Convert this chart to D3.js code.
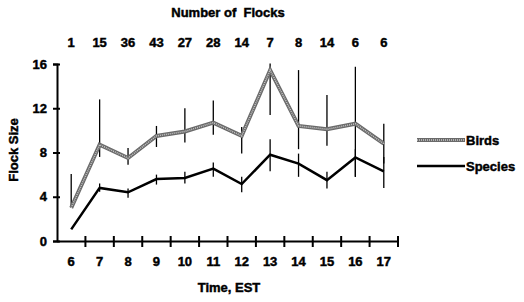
<!DOCTYPE html>
<html>
<head>
<meta charset="utf-8">
<script src="https://cdn.jsdelivr.net/npm/d3@7"></script>
<style>
  body { margin: 0; background: #fff; }
  text { font-family: "Liberation Sans", Arial, sans-serif; font-weight: bold; fill: #000;
         stroke: #000; stroke-width: 0.45px; white-space: pre; }
</style>
</head>
<body>
<div id="chart"></div>
<script>
const hours = ["6", "7", "8", "9", "10", "11", "12", "13", "14", "15", "16", "17"];
const flocks = [1, 15, 36, 43, 27, 28, 14, 7, 8, 14, 6, 6];
const birds = [3.0, 8.7, 7.5, 9.5, 9.9, 10.7, 9.5, 15.45, 10.4, 10.1, 10.6, 8.8];
const birdsLow = [3.0, 7.6, 6.9, 8.5, 8.9, 9.6, 7.9, 11.4, 8.3, 8.6, 5.8, 7.0];
const birdsHigh = [6.05, 12.8, 8.4, 10.4, 12.0, 12.7, 10.3, 16.05, 15.45, 13.2, 15.75, 10.6];
const species = [1.05, 4.8, 4.4, 5.6, 5.7, 6.55, 5.15, 7.8, 7.0, 5.5, 7.55, 6.3];
const speciesLow = [1.05, 4.45, 3.9, 5.1, 5.2, 5.8, 4.4, 6.3, 5.8, 4.75, 5.8, 4.8];
const speciesHigh = [1.05, 5.2, 4.75, 6.0, 6.25, 7.1, 5.8, 9.2, 7.9, 6.25, 8.3, 7.6];
const yTicks = [0, 4, 8, 12, 16];

const width = 524, height = 302;

const svg = d3.select("#chart")
  .append("svg")
  .attr("width", width)
  .attr("height", height);

const x = d3.scaleBand().domain(hours).range([57, 398]);
const y = d3.scaleLinear().domain([0, 16]).range([241, 64]);
const cx = (d) => x(d) + x.bandwidth() / 2;

// titles
svg.append("text")
  .attr("x", 228).attr("y", 17)
  .attr("text-anchor", "middle")
  .style("font-size", "13px")
  .text("Number of  Flocks");

svg.append("g")
  .selectAll("text")
  .data(hours)
  .join("text")
  .attr("x", (d) => cx(d))
  .attr("y", 47)
  .attr("text-anchor", "middle")
  .style("font-size", "13px")
  .text((d, i) => flocks[i]);

svg.append("text")
  .attr("transform", "translate(18,150) rotate(-90)")
  .attr("text-anchor", "middle")
  .style("font-size", "13px")
  .text("Flock Size");

svg.append("text")
  .attr("x", 229).attr("y", 292)
  .attr("text-anchor", "middle")
  .style("font-size", "13px")
  .text("Time, EST");

// axes
const yAxis = svg.append("g")
  .attr("transform", "translate(57,0)")
  .call(d3.axisLeft(y).tickValues(yTicks).tickSize(4).tickPadding(6));

const xAxis = svg.append("g")
  .attr("transform", "translate(0,241)")
  .call(d3.axisBottom(x).tickSize(0).tickPadding(16));

[yAxis, xAxis].forEach((g) => {
  g.select(".domain").attr("stroke", "#000").attr("stroke-width", 2);
  g.selectAll("text").style("font-size", "13px").style("font-family", null).attr("fill", "#000");
});
yAxis.selectAll(".tick line").attr("x2", 3).attr("x1", -4).attr("stroke", "#000").attr("stroke-width", 2);

// crossing ticks on the x axis at category boundaries
const bounds = hours.map((d) => x(d)).concat([x.range()[1]]);
svg.append("g")
  .selectAll("line")
  .data(bounds.slice(1))
  .join("line")
  .attr("x1", (d) => d).attr("x2", (d) => d)
  .attr("y1", 236).attr("y2", 247)
  .attr("stroke", "#000")
  .attr("stroke-width", 2);

// error bars
function errBars(lo, hi) {
  svg.append("g")
    .selectAll("line")
    .data(hours)
    .join("line")
    .attr("x1", (d) => cx(d)).attr("x2", (d) => cx(d))
    .attr("y1", (d, i) => y(hi[i]))
    .attr("y2", (d, i) => y(lo[i]))
    .attr("stroke", "#000")
    .attr("stroke-width", 1.3);
}
errBars(birdsLow, birdsHigh);
errBars(speciesLow, speciesHigh);

const line = d3.line().x((d) => cx(d[0])).y((d) => y(d[1]));
const birdPts = hours.map((h, i) => [h, birds[i]]);
const speciesPts = hours.map((h, i) => [h, species[i]]);

function birdLine(sel) {
  sel.append("path").attr("fill", "none").attr("stroke", "#6a6a6a").attr("stroke-width", 4);
  sel.append("path").attr("fill", "none").attr("stroke", "#c8c8c8").attr("stroke-width", 1.5)
    .attr("stroke-dasharray", "1,1");
}

const bg = svg.append("g");
birdLine(bg);
bg.selectAll("path").datum(birdPts).attr("d", line);

svg.append("path")
  .datum(speciesPts)
  .attr("fill", "none")
  .attr("stroke", "#000")
  .attr("stroke-width", 2.5)
  .attr("d", line);

// legend
const legend = svg.append("g");
const lb = legend.append("g");
birdLine(lb);
lb.selectAll("path").attr("d", "M417,140H465");
legend.append("text").attr("x", 466).attr("y", 145).style("font-size", "13px").text("Birds");
legend.append("line")
  .attr("x1", 417).attr("x2", 465).attr("y1", 166).attr("y2", 166)
  .attr("stroke", "#000").attr("stroke-width", 2.5);
legend.append("text").attr("x", 466).attr("y", 171).style("font-size", "13px").text("Species");
</script>
</body>
</html>
